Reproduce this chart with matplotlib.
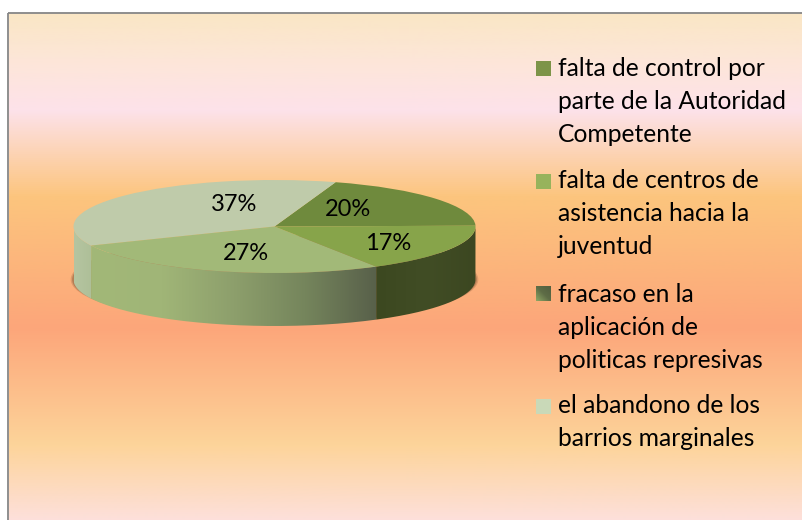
import numpy as np
import matplotlib
matplotlib.use("Agg")
import matplotlib.pyplot as plt
from matplotlib.colors import LinearSegmentedColormap
from matplotlib.patches import Ellipse, PathPatch, Rectangle
from matplotlib.path import Path

# data, in the order the slices run counter clockwise from the right
slice_names = ["fracaso", "abandono", "centros", "control"]
slice_values = [20, 37, 27, 17]
slice_labels = ["20%", "37%", "27%", "17%"]

legend_lines = [
    ["falta de control por", "parte de la Autoridad", "Competente"],
    ["falta de centros de", "asistencia hacia la", "juventud"],
    ["fracaso en la", "aplicación de", "politicas represivas"],
    ["el abandono de los", "barrios marginales"],
]

W, H = 803, 520
CX, CY, RX, RY = 274.5, 226.5, 201, 46.5
DEPTH = 53 / RY

fig = plt.figure(figsize=(W / 100, H / 100), dpi=100)
fig.patch.set_facecolor("white")

# background and frame, in pixel coordinates
bg = fig.add_axes([0, 0, 1, 1])
bg.axis("off")
bg_cmap = LinearSegmentedColormap.from_list("sunset", [
    (0.0, "#fae6c5"), (0.09, "#fde6d8"), (0.19, "#fde2ea"), (0.36, "#fcc57e"),
    (0.62, "#fca67a"), (0.85, "#fdd49a"), (1.0, "#fde0dc")])
bg.imshow(np.linspace(0, 1, 512).reshape(-1, 1), cmap=bg_cmap, aspect="auto",
          extent=(9, W + 2, H + 2, 13))
bg.add_patch(Rectangle((8.5, 12.5), W, H, fill=False, ec="#868686", lw=1.3))

# pie axes: one data unit is one radius of the squashed top ellipse
ax = fig.add_axes([0, 0, 1, 1])
ax.patch.set_alpha(0)

# soft shadow that only shows at the two ends of the wall
for grow, alpha in [(1.014, 0.18), (1.007, 0.3)]:
    ax.add_patch(Ellipse((0, -DEPTH), 2 * grow, 1.9, fc="#5a3b22", ec="none", alpha=alpha))

top_colors = ["#6f8a3d", "#bfcbaa", "#a2b978", "#87a44a"]
wedges, _ = ax.pie(slice_values, colors=top_colors, startangle=1, radius=1,
                   wedgeprops={"linewidth": 0}, normalize=True)
for w in wedges:
    w.set_zorder(5)

edges = 1 + np.cumsum([0] + slice_values) / sum(slice_values) * 360


def wall_patch(a0, a1):
    t = np.radians(np.linspace(a0, a1, 120))
    x, y = np.cos(t), np.sin(t)
    verts = np.r_[np.c_[x, y], np.c_[x[::-1], y[::-1] - DEPTH], [[x[0], y[0]]]]
    return PathPatch(Path(verts), fc="none", ec="none", transform=ax.transData)


wall_stops = [
    (180, edges[2], ["#b5c5a1", "#aebf98"]),
    (edges[2], edges[3], ["#a2b878", "#a0b577", "#8d9f6c", "#75855c", "#58604a"]),
    (edges[3], 360, ["#3c4820", "#414d25", "#3c4721"]),
]
for a0, a1, stops in wall_stops:
    x0, x1 = sorted([np.cos(np.radians(a0)), np.cos(np.radians(a1))])
    patch = wall_patch(a0, a1)
    ax.add_patch(patch)
    cm_wall = LinearSegmentedColormap.from_list("wall", stops)
    im = ax.imshow(np.linspace(0, 1, 256).reshape(1, -1), cmap=cm_wall, aspect="auto",
                   extent=(x0, x1, -1 - DEPTH - 0.1, 0.1), zorder=3)
    im.set_clip_path(patch)

ax.set_aspect("auto")
ax.set_xlim(-CX / RX, (W - CX) / RX)
ax.set_ylim((CY - H) / RY, CY / RY)
ax.axis("off")


def fx(px):
    return px / W


def fy(py):
    return 1 - py / H


font = "Lato"
for txt, (px, py) in zip(slice_labels, [(348, 210), (234, 205), (246, 254), (388, 244)]):
    fig.text(fx(px), fy(py), txt, ha="center", va="center", fontsize=17, family=font, color="black")

# legend, drawn by hand since it wraps and keeps uneven gaps
first_baselines = [76, 188, 302, 413]
swatch_tops = [61, 174, 286, 399]
swatch_colors = ["#7d9448", "#97b35c", None, "#c9d9b8"]
for lines, base, top, col in zip(legend_lines, first_baselines, swatch_tops, swatch_colors):
    if col is None:
        g = np.linspace(0, 1, 32)
        grad = np.add.outer(g, 1 - g) / 2
        sw = LinearSegmentedColormap.from_list("sw", ["#535f40", "#5e6c46", "#8fa765"])
        bg.imshow(grad, cmap=sw, extent=(536, 551, top + 15, top), aspect="auto", zorder=4)
    else:
        bg.add_patch(Rectangle((536, top), 15, 15, fc=col, ec="none", zorder=4))
    for i, line in enumerate(lines):
        fig.text(fx(558), fy(base + i * 33), line, ha="left", va="baseline",
                 fontsize=17.7, family=font, color="black")
bg.set_xlim(0, W)
bg.set_ylim(H, 0)

fig.savefig("out.png", dpi=100)
